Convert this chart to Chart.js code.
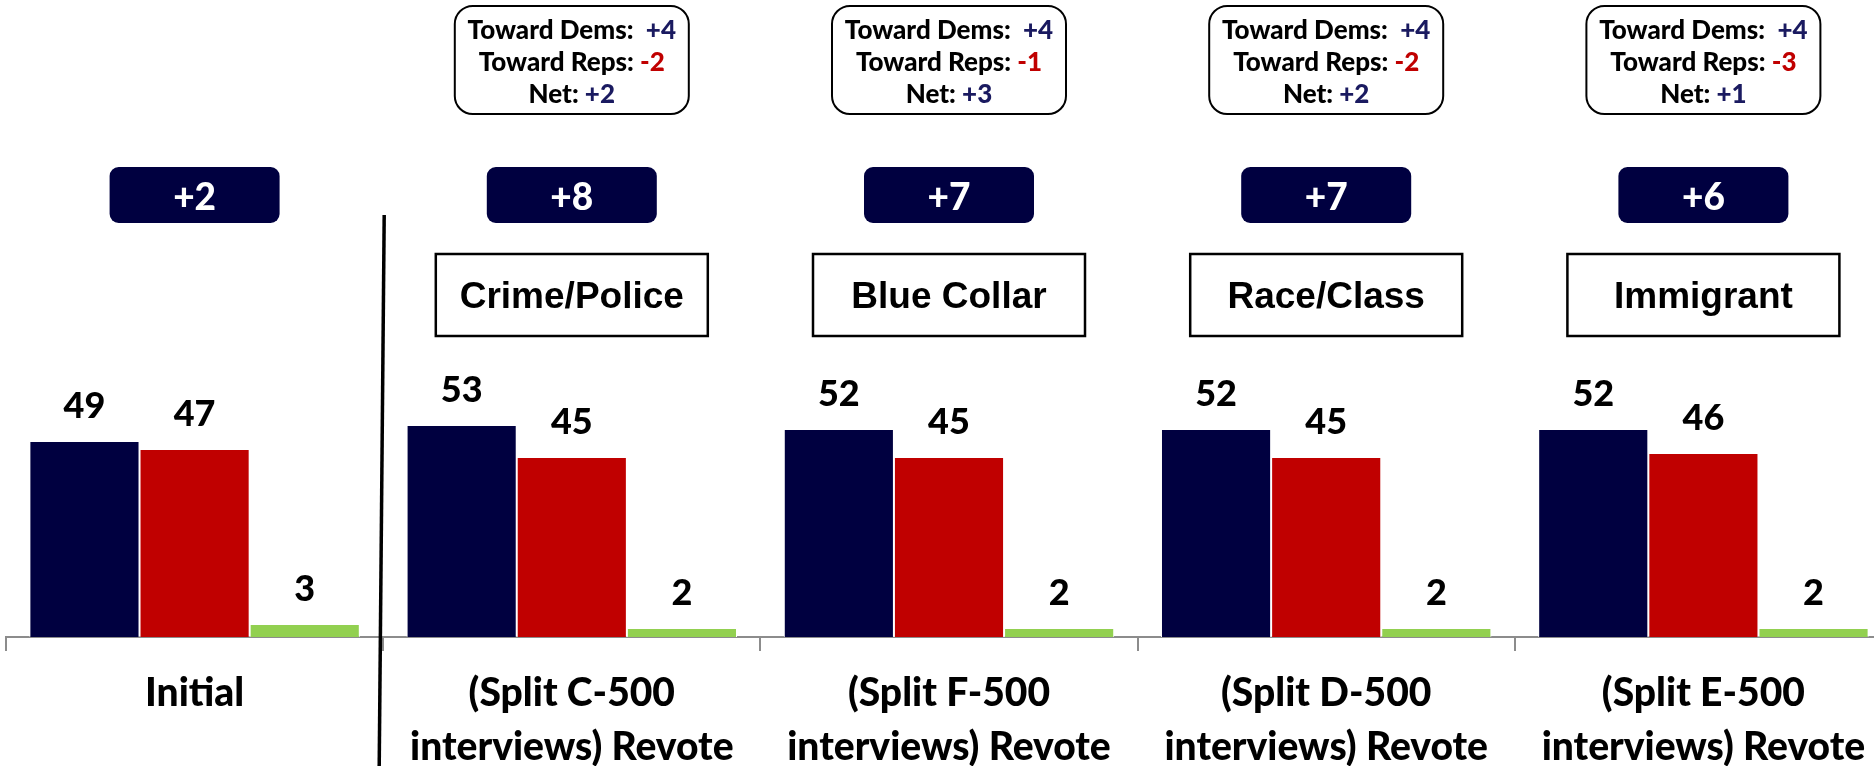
<!DOCTYPE html>
<html>
<head>
<meta charset="utf-8">
<script src="https://cdn.jsdelivr.net/npm/chart.js@4"></script>
<style>
  html, body { margin: 0; padding: 0; background: #fff; overflow: hidden; }
  #wrap { width: 1900px; height: 766px; }
</style>
</head>
<body>
<div id="wrap"><canvas id="app-chart" width="1900" height="766"></canvas></div>
<script>
const categories = [
  ["Initial"],
  ["(Split C-500", "interviews) Revote"],
  ["(Split F-500", "interviews) Revote"],
  ["(Split D-500", "interviews) Revote"],
  ["(Split E-500", "interviews) Revote"],
];
const demValues = [49, 53, 52, 52, 52];
const repValues = [47, 45, 45, 45, 46];
const otherValues = [3, 2, 2, 2, 2];
const margins = ["+2", "+8", "+7", "+7", "+6"];
const topics = [null, "Crime/Police", "Blue Collar", "Race/Class", "Immigrant"];
const towardDems = [null, "+4", "+4", "+4", "+4"];
const towardReps = [null, "-2", "-1", "-2", "-3"];
const netShift = [null, "+2", "+3", "+2", "+1"];

const NAVY = "#000040";
const RED = "#C00000";
const GREEN = "#92D050";
const TEXT_NAVY = "#1a1a60";
const HEAVY = "900";

const valueLabels = {
  id: "valueLabels",
  afterDatasetsDraw(chart) {
    const ctx = chart.ctx;
    ctx.save();
    ctx.font = HEAVY + " 36px Lato";
    ctx.fillStyle = "#000";
    ctx.textAlign = "center";
    ctx.textBaseline = "alphabetic";
    chart.data.datasets.forEach((ds, di) => {
      chart.getDatasetMeta(di).data.forEach((bar, i) => {
        ctx.fillText(String(ds.data[i]), bar.x, bar.y - 24);
      });
    });
    ctx.restore();
  },
};

function drawParts(ctx, parts, cx, y) {
  const total = parts.reduce((w, p) => w + ctx.measureText(p[0]).width, 0);
  let x = cx - total / 2;
  ctx.textAlign = "left";
  parts.forEach(([t, c]) => {
    ctx.fillStyle = c;
    ctx.fillText(t, x, y);
    x += ctx.measureText(t).width;
  });
}

const decorations = {
  id: "decorations",
  afterDraw(chart) {
    const ctx = chart.ctx;
    const xs = chart.scales.x;
    ctx.save();
    categories.forEach((c, i) => {
      const cx = xs.getPixelForValue(i);

      if (towardDems[i]) {
        ctx.beginPath();
        ctx.roundRect(cx - 117, 6, 234, 108, 18);
        ctx.fillStyle = "#fff";
        ctx.fill();
        ctx.lineWidth = 2;
        ctx.strokeStyle = "#000";
        ctx.stroke();
        ctx.font = HEAVY + " 26px Lato";
        ctx.textBaseline = "alphabetic";
        drawParts(ctx, [["Toward Dems:  ", "#000"], [towardDems[i], TEXT_NAVY]], cx, 39);
        drawParts(ctx, [["Toward Reps: ", "#000"], [towardReps[i], RED]], cx, 71);
        drawParts(ctx, [["Net: ", "#000"], [netShift[i], TEXT_NAVY]], cx, 103);
      }

      ctx.beginPath();
      ctx.roundRect(cx - 85, 167, 170, 56, 9);
      ctx.fillStyle = NAVY;
      ctx.fill();
      ctx.font = HEAVY + " 37px Lato";
      ctx.fillStyle = "#fff";
      ctx.textAlign = "center";
      ctx.textBaseline = "alphabetic";
      ctx.fillText(margins[i], cx, 210);

      if (topics[i]) {
        ctx.fillStyle = "#fff";
        ctx.fillRect(cx - 136, 254, 272, 82);
        ctx.lineWidth = 2.5;
        ctx.strokeStyle = "#000";
        ctx.strokeRect(cx - 136, 254, 272, 82);
        ctx.font = "bold 37px 'Liberation Sans'";
        ctx.fillStyle = "#000";
        ctx.textAlign = "center";
        ctx.fillText(topics[i], cx, 308);
      }
    });

    // slightly slanted divider between the initial vote and the revotes
    const sep = (xs.getPixelForValue(0) + xs.getPixelForValue(1)) / 2 - 1;
    ctx.beginPath();
    ctx.moveTo(sep + 2, 215);
    ctx.lineTo(sep - 3, 766);
    ctx.lineWidth = 3.5;
    ctx.strokeStyle = "#000";
    ctx.stroke();
    ctx.restore();
  },
};

const barStyle = {
  barPercentage: 1,
  categoryPercentage: 0.876,
  borderColor: "#ffffff",
  borderWidth: { left: 1, right: 1, top: 0, bottom: 0 },
  borderSkipped: false,
};

new Chart(document.querySelector("#app-chart").getContext("2d"), {
  type: "bar",
  data: {
    labels: categories,
    datasets: [
      { label: "Dem", data: demValues, backgroundColor: NAVY, ...barStyle },
      { label: "Rep", data: repValues, backgroundColor: RED, ...barStyle },
      { label: "Other", data: otherValues, backgroundColor: GREEN, ...barStyle },
    ],
  },
  options: {
    responsive: false,
    animation: false,
    layout: { padding: { left: 6, right: 8, top: 239, bottom: 0 } },
    plugins: { legend: { display: false }, tooltip: { enabled: false } },
    scales: {
      x: {
        afterFit(scale) { scale.height = 129; },
        grid: {
          offset: true,
          drawOnChartArea: false,
          drawTicks: true,
          tickLength: 14,
          color: "#8c8c8c",
          lineWidth: 2,
        },
        border: { display: true, color: "#8c8c8c", width: 2 },
        ticks: {
          color: "#000",
          padding: 16,
          maxRotation: 0,
          autoSkip: false,
          font: { family: "Lato", weight: HEAVY, size: 39, lineHeight: 1.38 },
        },
      },
      y: {
        display: false,
        min: 0,
        max: 100,
      },
    },
  },
  plugins: [valueLabels, decorations],
});
</script>
</body>
</html>
